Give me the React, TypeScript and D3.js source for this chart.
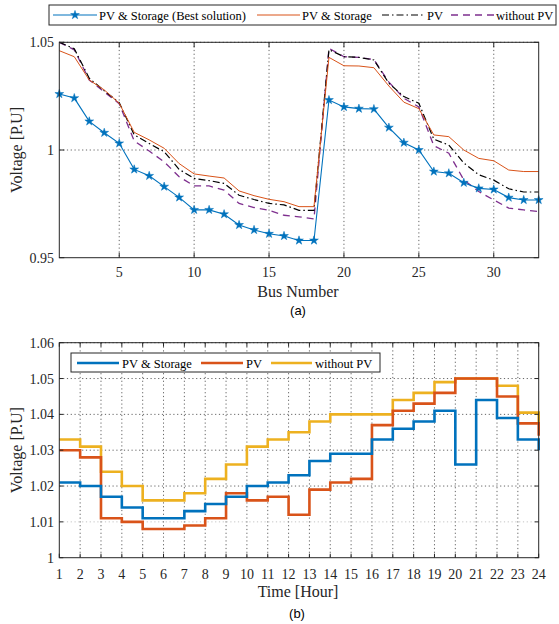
import React from "react";
import * as d3 from "d3";

const buses = [1,2,3,4,5,6,7,8,9,10,11,12,13,14,15,16,17,18,19,20,21,22,23,24,25,26,27,28,29,30,31,32,33];
const bestSolution = [1.026,1.0241,1.0133,1.008,1.0031,0.991,0.988,0.983,0.978,0.9722,0.9722,0.9702,0.9652,0.9629,0.9611,0.9601,0.958,0.958,1.0232,1.020,1.0192,1.019,1.0104,1.0034,1.000,0.990,0.9892,0.9848,0.9822,0.9817,0.9779,0.9768,0.9768];
const pvStorage = [1.0461,1.0433,1.0325,1.0279,1.0217,1.0082,1.0047,1.0008,0.9937,0.9889,0.9879,0.987,0.981,0.9788,0.9771,0.976,0.9737,0.9737,1.043,1.0391,1.039,1.0382,1.0297,1.0222,1.0192,1.007,1.0062,1.000,0.9961,0.995,0.9907,0.990,0.990];
const pvOnly = [1.05,1.047,1.0333,1.0275,1.022,1.007,1.003,0.9992,0.991,0.9868,0.9858,0.9845,0.979,0.977,0.9752,0.9745,0.972,0.972,1.0466,1.0433,1.043,1.0418,1.031,1.0248,1.0217,1.005,1.0023,0.994,0.9885,0.986,0.982,0.9805,0.9805];
const withoutPV = [1.05,1.0465,1.0325,1.027,1.0215,1.0042,0.9995,0.9945,0.9876,0.9833,0.9833,0.9814,0.9752,0.9733,0.972,0.9697,0.969,0.968,1.0472,1.0433,1.043,1.042,1.0315,1.024,1.020,1.002,0.9985,0.9861,0.9807,0.9768,0.973,0.9722,0.9714];
const busTicks = [5,10,15,20,25,30];
const topYTicks = [0.95,1,1.05];
const topYLabels = ["0.95","1","1.05"];

const hours = [1,2,3,4,5,6,7,8,9,10,11,12,13,14,15,16,17,18,19,20,21,22,23,24];
const hourStorage = [1.021,1.020,1.017,1.014,1.011,1.011,1.013,1.015,1.017,1.020,1.021,1.023,1.027,1.029,1.029,1.033,1.036,1.038,1.041,1.026,1.044,1.039,1.033,1.030];
const hourPV = [1.030,1.028,1.011,1.010,1.008,1.008,1.009,1.011,1.018,1.016,1.017,1.012,1.019,1.021,1.022,1.037,1.041,1.043,1.046,1.050,1.050,1.045,1.0375,1.034];
const hourNoPV = [1.033,1.031,1.024,1.020,1.016,1.016,1.018,1.022,1.026,1.031,1.033,1.035,1.038,1.040,1.040,1.040,1.044,1.046,1.049,1.050,1.050,1.048,1.0405,1.0375];
const botYTicks = [1,1.01,1.02,1.03,1.04,1.05,1.06];
const botYLabels = ["1","1.01","1.02","1.03","1.04","1.05","1.06"];

const SERIF = "Liberation Serif, DejaVu Serif, serif";
const SANS = "Liberation Sans, Arial, sans-serif";
const AX = "#262626";
const C_BLUE = "#0072BD";
const C_ORANGE = "#D95319";
const C_YELLOW = "#EDB120";
const C_PURPLE = "#7E2F8E";
const LEG = 12.5;

const T = (props: any) => <text {...props} style={{ fontFamily: props.fontFamily || SERIF }} />;

export default function App() {
  const L = 59.3, R = 538.7;
  const x1 = d3.scaleLinear().domain([1, 33]).range([L, R]);
  const y1 = d3.scaleLinear().domain([0.95, 1.05]).range([257.7, 42.3]);
  const x2 = d3.scaleLinear().domain([1, 24]).range([L, R]);
  const y2 = d3.scaleLinear().domain([1, 1.06]).range([557.7, 342.7]);

  const lineTop = (vals: number[]) =>
    d3.line<number>().x((_, i) => x1(buses[i])).y((v) => y1(v))(vals) || "";
  const stairs = (vals: number[]) =>
    d3.line<number>().curve(d3.curveStepAfter).x((_, i) => x2(hours[i])).y((v) => y2(v))(vals) || "";

  const star = d3.symbol().type(d3.symbolStar).size(24)() || "";
  const grid = { stroke: "#222", strokeWidth: 0.7, strokeDasharray: "1.2,2.6" };

  const t1 = y1.range()[1], b1 = y1.range()[0];
  const t2 = y2.range()[1], b2 = y2.range()[0];

  return (
    <svg width={559} height={624} style={{ position: "absolute", left: 0, top: 0, background: "#fff" }}>
      <rect x={0} y={0} width={559} height={624} fill="#fff" />
      {busTicks.map((b) => (
        <line key={"gv" + b} x1={x1(b)} x2={x1(b)} y1={t1} y2={b1} {...grid} />
      ))}
      <line x1={L} x2={R} y1={y1(1)} y2={y1(1)} {...grid} />
      <line x1={L} x2={R} y1={t1} y2={t1} {...grid} />
      <path d={lineTop(withoutPV)} fill="none" stroke={C_PURPLE} strokeWidth={1.3} strokeDasharray="7,5" />
      <path d={lineTop(pvOnly)} fill="none" stroke="#000" strokeWidth={1.2} strokeDasharray="7,3,1.5,3" />
      <path d={lineTop(pvStorage)} fill="none" stroke={C_ORANGE} strokeWidth={1} />
      <path d={lineTop(bestSolution)} fill="none" stroke={C_BLUE} strokeWidth={1.1} />
      {bestSolution.map((v, i) => (
        <path key={"st" + i} d={star} transform={`translate(${x1(buses[i])},${y1(v)})`} fill={C_BLUE} stroke={C_BLUE} strokeWidth={0.5} />
      ))}
      <rect x={L} y={t1} width={R - L} height={b1 - t1} fill="none" stroke={AX} strokeWidth={1} />
      {busTicks.map((b) => (
        <g key={"tx" + b}>
          <line x1={x1(b)} x2={x1(b)} y1={b1} y2={b1 - 5} stroke={AX} />
          <line x1={x1(b)} x2={x1(b)} y1={t1} y2={t1 + 5} stroke={AX} />
          <T x={x1(b)} y={277} textAnchor="middle" fontSize={14} fill="#262626">{b}</T>
        </g>
      ))}
      {topYTicks.map((v, i) => (
        <g key={"ty" + v}>
          <line x1={L} x2={L + 5} y1={y1(v)} y2={y1(v)} stroke={AX} />
          <line x1={R} x2={R - 5} y1={y1(v)} y2={y1(v)} stroke={AX} />
          <T x={54} y={y1(v) + 5} textAnchor="end" fontSize={14} fill="#262626">{topYLabels[i]}</T>
        </g>
      ))}
      <T x={298} y={297} textAnchor="middle" fontSize={16} fill="#262626">Bus Number</T>
      <T transform={`translate(22,${(t1 + b1) / 2}) rotate(-90)`} textAnchor="middle" fontSize={16} fill="#262626">Voltage [P.U]</T>
      <T x={298} y={315} textAnchor="middle" fontSize={13} fontFamily={SANS} fill="#000">(a)</T>

      <rect x={49} y={5} width={507} height={20} fill="#fff" stroke={AX} strokeWidth={1} />
      <line x1={53} x2={97} y1={15} y2={15} stroke={C_BLUE} strokeWidth={1.1} />
      <path d={star} transform="translate(75,15)" fill={C_BLUE} stroke={C_BLUE} strokeWidth={0.5} />
      <T x={99} y={19.5} fontSize={LEG} fill="#000">PV &amp; Storage (Best solution)</T>
      <line x1={257} x2={300} y1={15} y2={15} stroke={C_ORANGE} strokeWidth={1} />
      <T x={302} y={19.5} fontSize={LEG} fill="#000">PV &amp; Storage</T>
      <line x1={382} x2={425} y1={15} y2={15} stroke="#000" strokeWidth={1.2} strokeDasharray="7,3,1.5,3" />
      <T x={427} y={19.5} fontSize={LEG} fill="#000">PV</T>
      <line x1={451} x2={494} y1={15} y2={15} stroke={C_PURPLE} strokeWidth={1.3} strokeDasharray="7,5" />
      <T x={496} y={19.5} fontSize={LEG} fill="#000">without PV</T>

      {hours.slice(1, -1).map((h) => (
        <line key={"bgv" + h} x1={x2(h)} x2={x2(h)} y1={t2} y2={b2} {...grid} />
      ))}
      {botYTicks.slice(1, -1).map((v) => (
        <line key={"bgh" + v} x1={L} x2={R} y1={y2(v)} y2={y2(v)} {...grid}
          stroke={v === 1.01 ? "#aaa" : "#222"} />
      ))}
      <line x1={L} x2={R} y1={t2} y2={t2} {...grid} />
      <path d={stairs(hourNoPV)} fill="none" stroke={C_YELLOW} strokeWidth={2.6} />
      <path d={stairs(hourPV)} fill="none" stroke={C_ORANGE} strokeWidth={2.6} />
      <path d={stairs(hourStorage)} fill="none" stroke={C_BLUE} strokeWidth={2.6} />
      <rect x={L} y={t2} width={R - L} height={b2 - t2} fill="none" stroke={AX} strokeWidth={1} />
      {hours.map((h) => (
        <g key={"bx" + h}>
          <line x1={x2(h)} x2={x2(h)} y1={b2} y2={b2 - 4} stroke={AX} />
          <line x1={x2(h)} x2={x2(h)} y1={t2} y2={t2 + 4} stroke={AX} />
          <T x={x2(h)} y={579} textAnchor="middle" fontSize={14} fill="#262626">{h}</T>
        </g>
      ))}
      {botYTicks.map((v, i) => (
        <g key={"by" + v}>
          <line x1={L} x2={L + 4} y1={y2(v)} y2={y2(v)} stroke={AX} />
          <line x1={R} x2={R - 4} y1={y2(v)} y2={y2(v)} stroke={AX} />
          <T x={54} y={y2(v) + 5} textAnchor="end" fontSize={14} fill="#262626">{botYLabels[i]}</T>
        </g>
      ))}
      <T x={298} y={597} textAnchor="middle" fontSize={16} fill="#262626">Time [Hour]</T>
      <T transform={`translate(22,${(t2 + b2) / 2}) rotate(-90)`} textAnchor="middle" fontSize={16} fill="#262626">Voltage [P.U]</T>
      <T x={297} y={618} textAnchor="middle" fontSize={13} fontFamily={SANS} fill="#000">(b)</T>

      <rect x={71} y={353} width={309} height={19} fill="#fff" stroke={AX} strokeWidth={1} />
      <line x1={77} x2={119} y1={363} y2={363} stroke={C_BLUE} strokeWidth={2.6} />
      <T x={122} y={367.5} fontSize={LEG} fill="#000">PV &amp; Storage</T>
      <line x1={201} x2={243} y1={363} y2={363} stroke={C_ORANGE} strokeWidth={2.6} />
      <T x={246} y={367.5} fontSize={LEG} fill="#000">PV</T>
      <line x1={271} x2={312} y1={363} y2={363} stroke={C_YELLOW} strokeWidth={2.6} />
      <T x={315} y={367.5} fontSize={LEG} fill="#000">without PV</T>
    </svg>
  );
}
